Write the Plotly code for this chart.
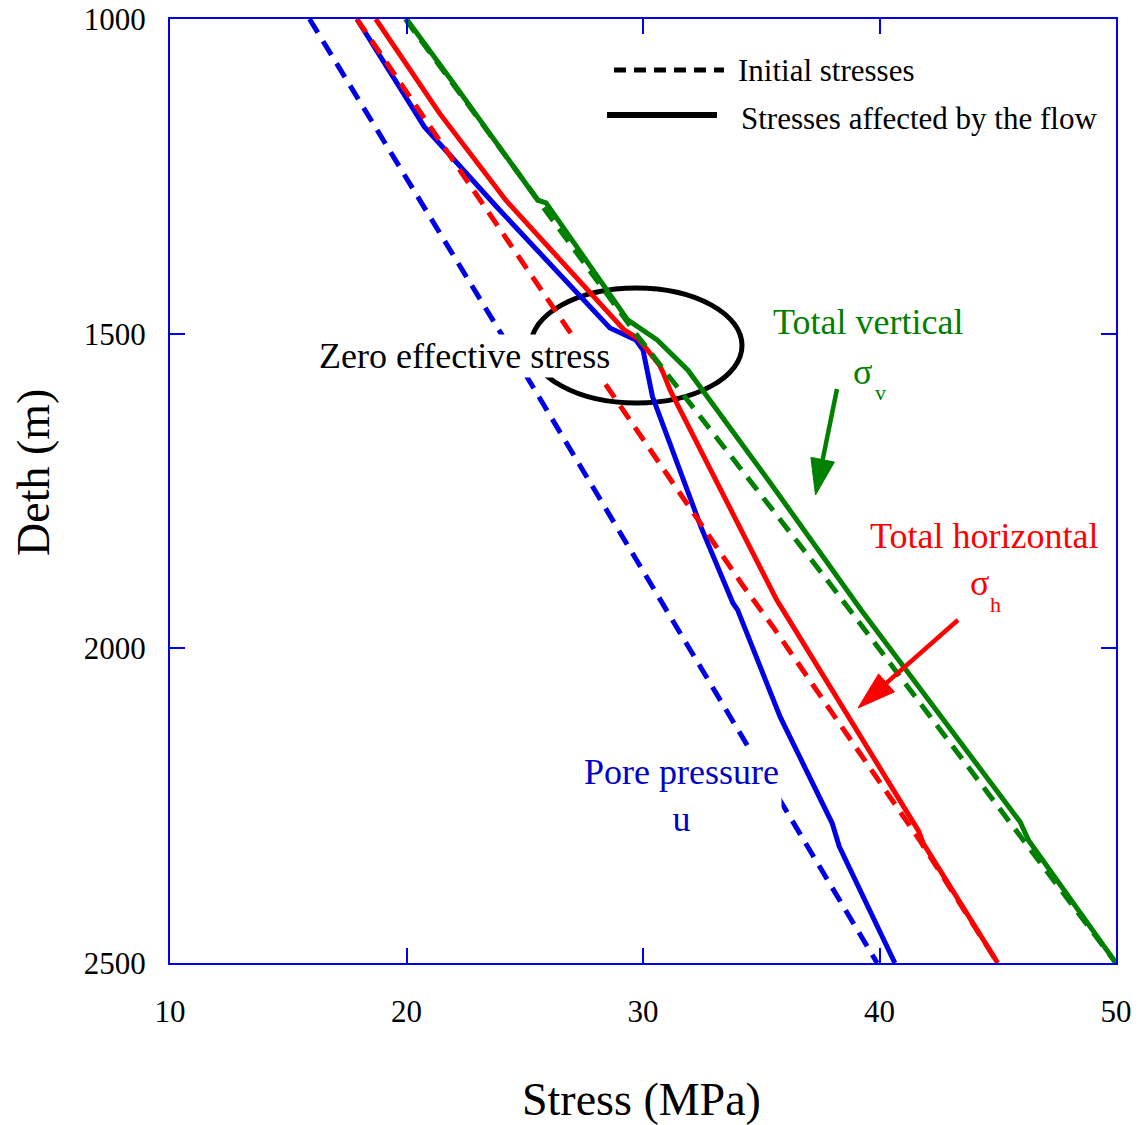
import math
import plotly.graph_objects as go

# ---------------- data ----------------
# Initial stresses (dashed)
depth_u_init = [1000, 1500, 2034, 2500]
u_init = [15.9, 24.0, 32.5, 39.9]

depth_h_init = [1000, 1494, 1574, 1899, 1966, 2305, 2500]
h_init = [17.9, 26.9, 28.3, 34.2, 35.5, 41.7, 45.0]

depth_v_init = [1000, 1500, 1902, 2283, 2500]
v_init = [19.95, 29.7, 38.0, 45.65, 50.0]

# Stresses affected by the flow (solid)
depth_u_flow = [1000, 1171, 1298, 1491, 1510, 1526, 1600, 1807, 1928, 1939, 2109, 2278, 2315, 2500]
u_flow = [17.9, 20.75, 23.8, 28.6, 29.7, 30.0, 30.4, 32.45, 33.8, 34.0, 35.8, 38.0, 38.3, 40.65]

depth_h_flow = [1000, 1052, 1150, 1288, 1494, 1508, 1550, 1562, 1590, 1923, 1935, 2290, 2310, 2500]
h_flow = [18.7, 19.65, 21.4, 24.2, 29.2, 29.8, 30.7, 30.85, 31.15, 35.65, 35.85, 41.65, 41.85, 45.0]

depth_v_flow = [1000, 1100, 1288, 1292, 1478, 1510, 1558, 1738, 1938, 2276, 2305, 2500]
v_flow = [20.0, 21.95, 25.55, 25.9, 29.35, 30.6, 31.9, 35.4, 39.2, 45.95, 46.3, 50.0]

x_ticks = [10, 20, 30, 40, 50]
y_ticks = [1000, 1500, 2000, 2500]

# ---------------- styling ----------------
BLUE = "#0000e6"
RED = "#ff0000"
GREEN = "#008000"
AXIS = "#0000ee"
FONT = "Liberation Serif"
DASH = "16px,10px"
LW = 5

# body margin is removed by the post script, so the figure starts at the page origin
OFF = 0
W, H = 1140, 1125
ML, MR, MT, MB = 170, 24, 19, 162
X0, X1 = 10, 50
Y0, Y1 = 1000, 2500
PW = W - ML - MR
PH = H - MT - MB
PL = OFF + ML          # page x of plot left edge
PT = OFF + MT          # page y of plot top edge


def dx(px):
    return X0 + (px - PL) / PW * (X1 - X0)


def dy(py):
    return Y0 + (py - PT) / PH * (Y1 - Y0)


def px_paper_x(px):
    return (px - PL) / PW


def px_paper_y(py):
    return (PT + PH - py) / PH


fig = go.Figure()

for xs, ys, col in [(u_flow, depth_u_flow, BLUE), (h_flow, depth_h_flow, RED), (v_flow, depth_v_flow, GREEN)]:
    fig.add_trace(go.Scatter(x=xs, y=ys, mode="lines", line=dict(color=col, width=LW),
                             hoverinfo="skip", showlegend=False))
for xs, ys, col in [(u_init, depth_u_init, BLUE), (h_init, depth_h_init, RED), (v_init, depth_v_init, GREEN)]:
    fig.add_trace(go.Scatter(x=xs, y=ys, mode="lines", line=dict(color=col, width=LW, dash=DASH),
                             hoverinfo="skip", showlegend=False))

shapes = []
# ellipse around the zero effective stress zone
shapes.append(dict(type="circle", xref="x", yref="y", x0=dx(531), x1=dx(742), y0=dy(288), y1=dy(403),
                   line=dict(color="black", width=5), layer="below"))

# legend sample lines
shapes.append(dict(type="line", xref="paper", yref="paper",
                   x0=px_paper_x(614), x1=px_paper_x(724), y0=px_paper_y(70), y1=px_paper_y(70),
                   line=dict(color="black", width=5, dash="12px,8px")))
shapes.append(dict(type="line", xref="paper", yref="paper",
                   x0=px_paper_x(607), x1=px_paper_x(717), y0=px_paper_y(115), y1=px_paper_y(115),
                   line=dict(color="black", width=6)))


def arrow(tail, tip, color, head_len, head_w, lw):
    tx, ty = tail
    hx, hy = tip
    L = math.hypot(hx - tx, hy - ty)
    ux, uy = (hx - tx) / L, (hy - ty) / L
    bx, by = hx - ux * head_len, hy - uy * head_len
    nx, ny = -uy, ux
    p1 = (bx + nx * head_w / 2, by + ny * head_w / 2)
    p2 = (bx - nx * head_w / 2, by - ny * head_w / 2)
    shapes.append(dict(type="line", xref="x", yref="y", x0=dx(tx), y0=dy(ty),
                       x1=dx(bx + ux * 3), y1=dy(by + uy * 3), line=dict(color=color, width=lw)))
    path = "M {},{} L {},{} L {},{} Z".format(dx(hx), dy(hy), dx(p1[0]), dy(p1[1]), dx(p2[0]), dy(p2[1]))
    shapes.append(dict(type="path", xref="x", yref="y", path=path, fillcolor=color,
                       line=dict(color=color, width=1)))


arrow((837, 389), (815.5, 495), GREEN, 36, 24, 4.5)
arrow((958, 620), (858, 708), RED, 38, 24, 4.5)

annotations = []


def label(text, px, py, color, size, xanchor="center", bg=None, pad=1):
    a = dict(text=text, xref="x", yref="y", x=dx(px), y=dy(py), showarrow=False,
             font=dict(family=FONT, size=size, color=color), xanchor=xanchor, yanchor="middle",
             align="center")
    if bg:
        a["bgcolor"] = bg
        a["borderpad"] = pad
    annotations.append(a)


label("Zero effective stress", 464, 356, "black", 36, bg="white", pad=1)
label("Total vertical", 868, 322, GREEN, 36)
label("σ", 862, 372, GREEN, 36)
label("v", 880, 392, GREEN, 22)
label("Total horizontal", 984, 536, RED, 36)
label("σ", 979, 583, RED, 36)
label("h", 995, 604, RED, 22)
label("Pore pressure<br>u", 681, 795, "#0000cc", 36, bg="white", pad=2)

# legend texts
annotations.append(dict(text="Initial stresses", xref="paper", yref="paper",
                        x=px_paper_x(736), y=px_paper_y(70), xanchor="left", yanchor="middle",
                        showarrow=False, font=dict(family=FONT, size=31, color="black")))
annotations.append(dict(text="Stresses affected by the flow", xref="paper", yref="paper",
                        x=px_paper_x(739), y=px_paper_y(118), xanchor="left", yanchor="middle",
                        showarrow=False, font=dict(family=FONT, size=31, color="black")))

# axis titles
annotations.append(dict(text="Stress (MPa)", xref="paper", yref="paper",
                        x=px_paper_x(641), y=px_paper_y(1099), xanchor="center", yanchor="middle",
                        showarrow=False, font=dict(family=FONT, size=46, color="black")))
annotations.append(dict(text="Deth (m)", xref="paper", yref="paper",
                        x=px_paper_x(33), y=px_paper_y(473), xanchor="center", yanchor="middle",
                        textangle=-90, showarrow=False, font=dict(family=FONT, size=46, color="black")))

axis_common = dict(showgrid=False, zeroline=False, showline=True, linecolor=AXIS, linewidth=2,
                   mirror="ticks", ticks="inside", ticklen=15, tickwidth=2, tickcolor=AXIS,
                   automargin=False, ticklabeloverflow="allow",
                   tickfont=dict(family=FONT, size=31, color="black"))

fig.update_layout(
    width=W, height=H,
    autosize=False,
    margin=dict(l=ML, r=MR, t=MT, b=MB, pad=0, autoexpand=False),
    paper_bgcolor="white", plot_bgcolor="white",
    xaxis=dict(range=[X0, X1], tickvals=x_ticks, ticktext=[str(v) for v in x_ticks],
               ticklabelstandoff=20, **axis_common),
    yaxis=dict(range=[Y1, Y0], tickvals=y_ticks, ticktext=[str(v) for v in y_ticks],
               ticklabelstandoff=16, **axis_common),
    shapes=shapes,
    annotations=annotations,
    showlegend=False,
)

fig.write_html("out.html",
               config={"displayModeBar": False, "staticPlot": True},
               post_script="document.body.style.margin='0';document.body.style.overflow='hidden';")
